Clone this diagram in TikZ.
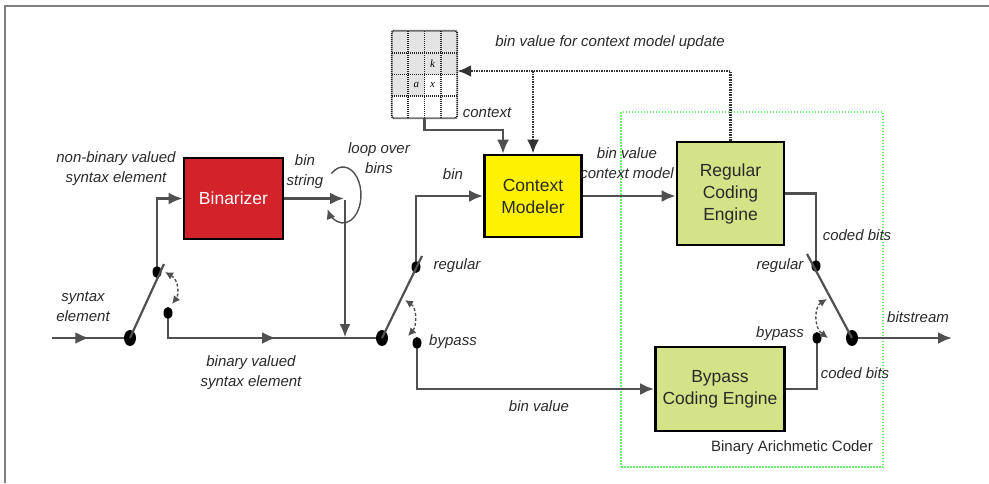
\documentclass[tikz,border=0pt]{standalone}
\usepackage{fontspec}
\setmainfont{Liberation Sans}
\newfontfamily\gridfont{Liberation Serif}
\usepackage{tikz}
\usepackage{xcolor}
\usetikzlibrary{shapes.geometric, positioning, arrows.meta, decorations.markings}
\definecolor{wiregray}{HTML}{505050}
\definecolor{binred}{HTML}{D2232A}
\definecolor{ctxyellow}{HTML}{FFF200}
\definecolor{enggreen}{HTML}{D4E288}
\definecolor{coderedge}{HTML}{6BEE6B}
\definecolor{cellgray}{HTML}{E4E4E4}
\definecolor{txtgray}{HTML}{2A2A2A}

\begin{document}
\begin{tikzpicture}[x=1pt, y=-1pt,
  blk/.style={draw=black, line width=2.6pt, align=center, inner sep=0pt, text=txtgray, font=\fontsize{17.5}{22}\selectfont},
  lbl/.style={inner sep=0pt, align=center, text=txtgray, font=\fontsize{15}{20}\selectfont\itshape},
  wire/.style={draw=wiregray, line width=2.8pt},
  arr/.style={-{Latex[length=14pt,width=12pt]}},
  midarr/.style={postaction={decorate}, decoration={markings, mark=at position #1 with {\arrow{Latex[length=14pt,width=12pt]}}}},
  pivot/.style={ellipse, fill=black, minimum width=12pt, minimum height=16pt, inner sep=0pt},
  contact/.style={ellipse, fill=black, minimum width=9pt, minimum height=12pt, inner sep=0pt},
  lever/.style={draw=wiregray, line width=2.2pt},
  swing/.style={draw=wiregray, line width=1.4pt, dash pattern=on 3pt off 2pt, {Latex[length=8pt,width=8pt]}-{Latex[length=8pt,width=8pt]}},
  upd/.style={draw=black!80, line width=2.8pt, dash pattern=on 1.5pt off 1pt},
  gridln/.style={draw=black!85, line width=1.8pt, dash pattern=on 1.2pt off 0.8pt},
]
\useasboundingbox (0,0) rectangle (989,483);
\draw[draw=gray, line width=1.5pt] (5,483) -- (5,6) -- (989,6);
% arithmetic coder frame
\node[draw=coderedge, line width=2pt, dash pattern=on 1.5pt off 1.5pt, minimum width=262pt, minimum height=355pt] (bac) at (752,289.5) {};
\node[inner sep=0pt, text=txtgray, font=\fontsize{15}{18}\selectfont] (lbac) at (792,448) {Binary Arichmetic Coder};
%
\node[blk, fill=binred, text=white, minimum width=99pt, minimum height=81pt] (bin) at (233.5,198.5) {Binarizer};
\node[blk, fill=ctxyellow, minimum width=97pt, minimum height=82pt] (ctx) at (533,196) {Context\\Modeler};
\node[blk, fill=enggreen, minimum width=107pt, minimum height=103pt] (reg) at (730.5,193.5) {Regular\\Coding\\Engine};
\node[blk, fill=enggreen, minimum width=129pt, minimum height=84pt] (byp) at (720,389) {Bypass\\Coding Engine};
% context table
\node[minimum width=65pt, minimum height=87pt, inner sep=0pt] (grid) at (424.5,74.5) {};
\foreach \c in {0,...,3}
  \fill[cellgray] (392+16.25*\c,31) rectangle ++(16.25,43.5);
\fill[cellgray] (392,74.5) rectangle ++(32.5,21.75);
\foreach \i in {1,2,3} {
  \draw[gridln] (392+16.25*\i,31) -- ++(0,87);
  \draw[gridln] (392,31+21.75*\i) -- ++(65,0);
}
\draw[gridln, rounded corners=2pt] (grid.north west) rectangle (grid.south east);
\node[inner sep=0pt, font=\gridfont\itshape\fontsize{11}{12}\selectfont] (gk) at (432.6,64) {k};
\node[inner sep=0pt, font=\gridfont\itshape\fontsize{11}{12}\selectfont] (ga) at (416.4,85.4) {a};
\node[inner sep=0pt, font=\gridfont\itshape\fontsize{11}{12}\selectfont] (gx) at (432.6,85.4) {x};
% switches
\node[pivot] (p1) at (130,338) {};
\node[contact] (c1a) at (157,272) {};
\node[contact] (c1b) at (168,313) {};
\node[pivot] (p2) at (382,338) {};
\node[contact] (c2a) at (416,267) {};
\node[contact] (c2b) at (417,343) {};
\node[pivot] (p3) at (852,338) {};
\node[contact] (c3a) at (816,266) {};
\node[contact] (c3b) at (817,338) {};
\coordinate (in) at (52,338);
\coordinate (out) at (952,338);
\coordinate (l1) at (164,264);
\coordinate (l2) at (422,256);
\coordinate (l3) at (807,254);
\coordinate (loop) at (344,196);
\coordinate (jn) at (345,337);
\coordinate (updc) at (730.5,71);
%
\draw[wire, midarr=0.52] (in) -- (p1);
\draw[lever] (p1.center) -- (l1);
\draw[swing] (165,272) .. controls (179,280) and (179,295) .. (172,304);
\draw[wire, arr] (c1a) |- (bin.west);
\draw[wire, midarr=0.56] (c1b) |- (p2);
\draw[wire, arr] (bin) -- (bin -| loop);
\draw[draw=wiregray, line width=1.4pt, -{Latex[length=10pt,width=9pt]}] (343,195) ++(230:18 and 28) arc[start angle=230, end angle=510, x radius=18, y radius=28];
\draw[draw=wiregray, line width=1.4pt, -{Latex[length=13pt,width=11pt]}] (345,200) -- (jn);
%
\draw[lever] (p2.center) -- (l2);
\draw[swing] (405,300) .. controls (417,308) and (417,326) .. (408,336);
\draw[wire, arr] (c2a) |- (ctx.west);
\draw[wire, arr] (c2b) |- (byp.west);
\draw[wire, arr] (ctx.east) -- (reg.west |- ctx.east);
%
\draw[wire] (reg.east) -| (c3a);
\draw[wire] (byp.east) -| (c3b);
\draw[lever] (p3.center) -- (l3);
\draw[swing] (827,299) .. controls (814,307) and (814,328) .. (828,338);
\draw[wire, arr] (p3) -- (out);
% context selection and update
\draw[draw=wiregray, line width=2.2pt, arr] (grid.south) -- ++(0,12) -| ([xshift=-30pt]ctx.north);
\draw[upd, arr] (reg.north) |- (grid.east |- updc);
\draw[upd, arr] (ctx.north |- updc) -- (ctx.north);
% labels
\node[lbl] (lupd) at (610,43) {bin value for context model update};
\node[lbl] (lctx) at (487,113) {context};
\node[lbl] (lnb) at (116,169) {non-binary valued\\syntax element};
\node[lbl] (lse) at (83,307) {syntax\\element};
\node[lbl] (lbs) at (305,172) {bin\\string};
\node[lbl] (lloop) at (379,158) {loop over\\bins};
\node[lbl] (lbv) at (251,373) {binary valued\\syntax element};
\node[lbl] (lbin) at (453,174) {bin};
\node[lbl] (lreg2) at (457,266) {regular};
\node[lbl] (lbyp2) at (453,342) {bypass};
\node[lbl] (lbval) at (539,406) {bin value};
\node[lbl] (lbvcm) at (627,163) {bin value\\context model};
\node[lbl] (lcb1) at (857,235) {coded bits};
\node[lbl] (lreg3) at (780,266) {regular};
\node[lbl] (lbyp3) at (780,334) {bypass};
\node[lbl] (lcb2) at (855,373) {coded bits};
\node[lbl] (lbs2) at (918,317) {bitstream};
\end{tikzpicture}
\end{document}
